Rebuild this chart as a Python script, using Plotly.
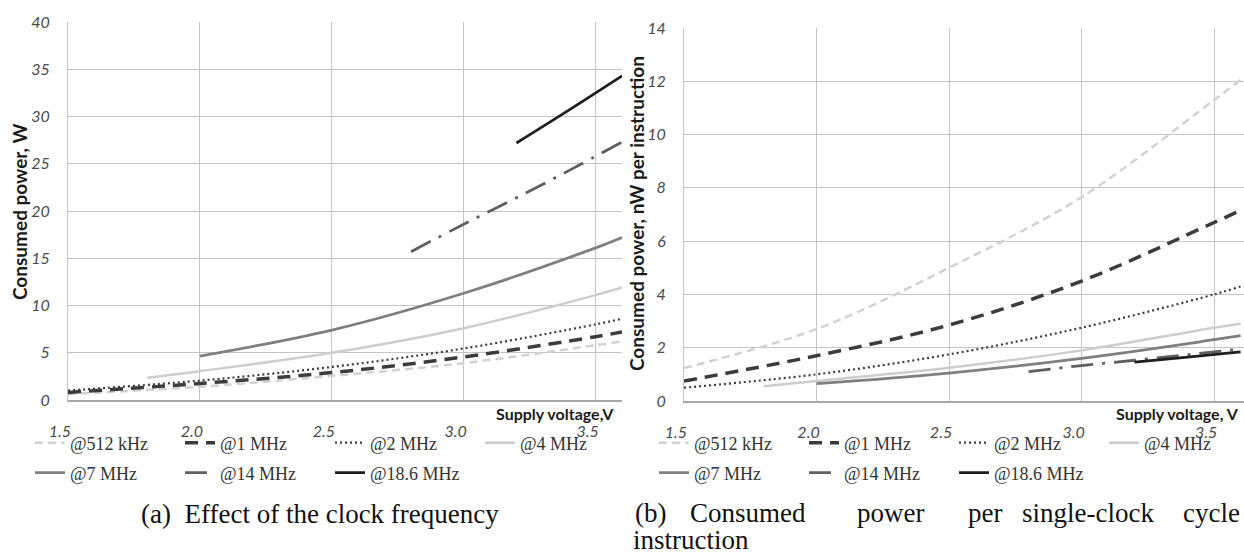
import plotly.graph_objects as go

W, H = 1244, 554

# supply voltage points (V) for each frequency curve
v_512k = [1.5, 2.0, 2.5, 3.0, 3.5, 3.6]
v_1m = [1.5, 2.0, 2.5, 3.0, 3.5, 3.6]
v_2m = [1.5, 2.0, 2.5, 3.0, 3.5, 3.6]
v_4m = [1.8, 2.0, 2.5, 3.0, 3.5, 3.6]
v_7m = [2.0, 2.5, 3.0, 3.5, 3.6]
v_14m = [2.8, 3.0, 3.2, 3.4, 3.6]
v_18m = [3.2, 3.4, 3.6]

# (a) consumed power, W
pw_512k = [0.63, 1.4, 2.55, 3.9, 5.8, 6.2]
pw_1m = [0.8, 1.75, 2.9, 4.55, 6.7, 7.2]
pw_2m = [1.0, 2.05, 3.5, 5.45, 8.0, 8.6]
pw_4m = [2.35, 3.05, 5.0, 7.6, 11.1, 11.9]
pw_7m = [4.65, 7.4, 11.3, 16.1, 17.2]
pw_14m = [15.7, 18.6, 21.4, 24.3, 27.3]
pw_18m = [27.2, 30.7, 34.3]

# (b) consumed power per instruction, nW
pi_512k = [1.24, 2.7, 5.0, 7.65, 11.3, 12.05]
pi_1m = [0.75, 1.7, 2.85, 4.5, 6.7, 7.15]
pi_2m = [0.5, 1.0, 1.75, 2.75, 4.0, 4.3]
pi_4m = [0.55, 0.75, 1.25, 1.9, 2.75, 2.9]
pi_7m = [0.65, 1.05, 1.6, 2.3, 2.45]
pi_14m = [1.1, 1.33, 1.53, 1.74, 1.95]
pi_18m = [1.46, 1.65, 1.84]

names = ['@512 kHz', '@1 MHz', '@2 MHz', '@4 MHz', '@7 MHz', '@14 MHz', '@18.6 MHz']
volts = [v_512k, v_1m, v_2m, v_4m, v_7m, v_14m, v_18m]
left_vals = [pw_512k, pw_1m, pw_2m, pw_4m, pw_7m, pw_14m, pw_18m]
right_vals = [pi_512k, pi_1m, pi_2m, pi_4m, pi_7m, pi_14m, pi_18m]

styles = [
    dict(color='#d2d2d2', width=2.5, dash='8px,5px'),
    dict(color='#3c3c3c', width=3.5, dash='13px,8px'),
    dict(color='#3c3c3c', width=2.2, dash='2px,3px'),
    dict(color='#cdcdcd', width=2.5, dash='solid'),
    dict(color='#7f7f7f', width=2.8, dash='solid'),
    dict(color='#5f5f5f', width=2.8, dash='22px,9px,3px,9px'),
    dict(color='#1e1e1e', width=2.8, dash='solid'),
]

fig = go.Figure()
for i, name in enumerate(names):
    row_legend = 'legend' if i < 4 else 'legend2'
    fig.add_trace(go.Scatter(x=volts[i], y=left_vals[i], name=name, mode='lines',
                             line=styles[i], line_shape='spline',
                             legend=row_legend, xaxis='x', yaxis='y'))
for i, name in enumerate(names):
    row_legend = 'legend3' if i < 4 else 'legend4'
    fig.add_trace(go.Scatter(x=volts[i], y=right_vals[i], name=name, mode='lines',
                             line=styles[i], line_shape='spline',
                             legend=row_legend, xaxis='x2', yaxis='y2'))

sans = 'Lato, Open Sans, sans-serif'
serif = 'Liberation Serif, serif'
grid = '#c4c4c4'
tickfont = dict(family=sans, size=16, color='#4a4a4a', style='italic')

xcommon = dict(tickvals=[1.5, 2.0, 2.5, 3.0, 3.5], ticktext=['1.5', '2.0', '2.5', '3.0', '3.5'],
               showgrid=True, gridcolor=grid, gridwidth=1, zeroline=False,
               showline=True, linecolor='#a8a8a8', linewidth=1.5, automargin=False,
               ticks='', tickfont=tickfont, ticklabelshift=-8, ticklabelstandoff=16)
ycommon = dict(showgrid=True, gridcolor=grid, gridwidth=1, zeroline=False,
               showline=True, linecolor=grid, linewidth=1, automargin=False,
               ticks='', tickfont=tickfont, ticklabelstandoff=14)

legfont = dict(family=serif, size=18, color='#333333')
leg = dict(orientation='h', xanchor='left', yanchor='middle', font=legfont,
           bgcolor='rgba(0,0,0,0)', entrywidth=105, entrywidthmode='pixels',
           itemwidth=30, tracegroupgap=0)

fig.update_layout(
    width=W, height=H, margin=dict(l=0, r=0, t=0, b=0, autoexpand=False),
    paper_bgcolor='white', plot_bgcolor='white',
    xaxis=dict(domain=[68 / W, 622 / W], range=[1.5, 3.6], anchor='y', **xcommon),
    yaxis=dict(domain=[1 - 400 / H, 1 - 22 / H], range=[0, 40], anchor='x',
               tickvals=list(range(0, 41, 5)), **ycommon),
    xaxis2=dict(domain=[684 / W, 1.0], range=[1.5, 3.613], anchor='y2', **xcommon),
    yaxis2=dict(domain=[1 - 401 / H, 1 - 28 / H], range=[0, 14], anchor='x2',
                tickvals=list(range(0, 15, 2)), **ycommon),
    legend=dict(x=30 / W, y=1 - 443 / H, **leg),
    legend2=dict(x=30 / W, y=1 - 473 / H, **leg),
    legend3=dict(x=654 / W, y=1 - 443 / H, **leg),
    legend4=dict(x=654 / W, y=1 - 473 / H, **leg),
)


def note(text, x, y, font, xanchor='center', angle=0):
    fig.add_annotation(text=text, x=x / W, y=1 - y / H, xref='paper', yref='paper',
                       xanchor=xanchor, yanchor='middle', textangle=angle,
                       showarrow=False, font=font)


ytitle = dict(family=sans, size=19, color='#1a1a1a', weight='bold')
xtitle = dict(family=sans, size=16, color='#1a1a1a', weight='bold')
note('Consumed power, W', 19, 212, ytitle, angle=-90)
note('Consumed power, nW per instruction', 637, 214, ytitle, angle=-90)
note('Supply voltage,V', 616, 413, xtitle, xanchor='right')
note('Supply voltage, V', 1241, 413, xtitle, xanchor='right')

capfont = dict(family=serif, size=27, color='#111111')
note('(a)  Effect of the clock frequency', 320, 514, capfont)
cap_words = ['(b)', 'Consumed', 'power', 'per', 'single-clock', 'cycle']
cap_centres = [650, 748, 890, 985, 1088, 1211]
for word, cx in zip(cap_words, cap_centres):
    note(word, cx, 513, capfont)
note('instruction', 631, 540, capfont, xanchor='left')

fig.write_html('out.html', config={'displayModeBar': False},
               post_script="document.body.style.margin='0';")
